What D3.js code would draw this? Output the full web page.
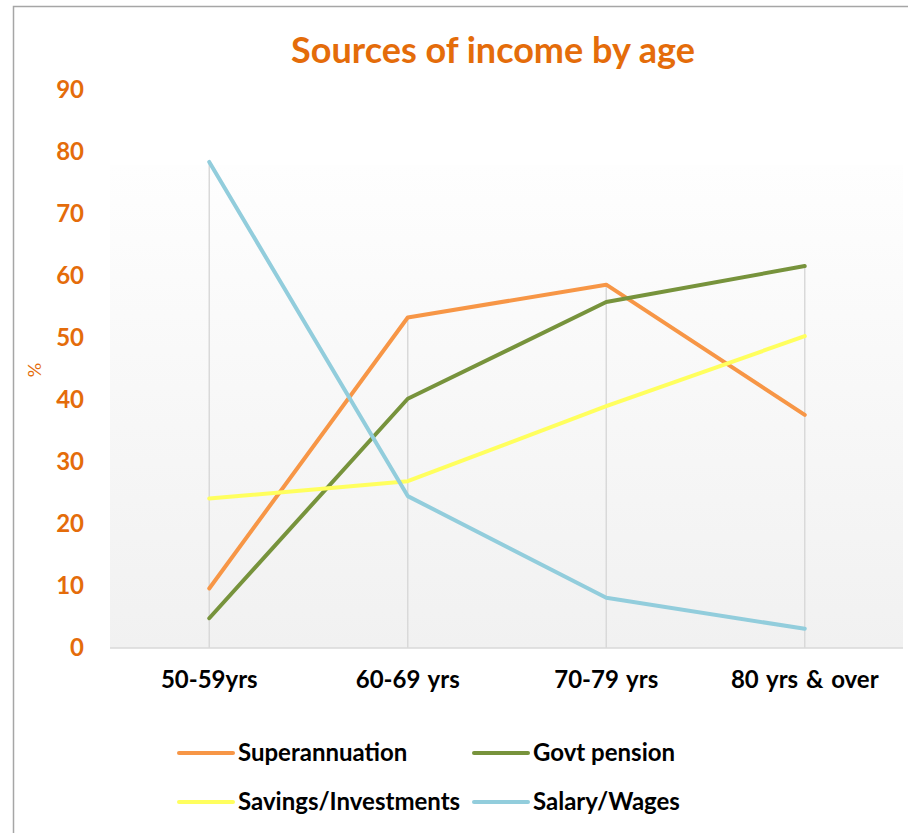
<!DOCTYPE html>
<html>
<head>
<meta charset="utf-8">
<script src="https://cdn.jsdelivr.net/npm/d3@7"></script>
<style>
  body { margin: 0; background: #fff; }
  svg { display: block; font-family: Lato, "Open Sans", sans-serif; }
</style>
</head>
<body>
<div id="chart"></div>
<script>
// data
var categories = ["50-59yrs", "60-69 yrs", "70-79 yrs", "80 yrs & over"];
var seriesNames = ["Superannuation", "Govt pension", "Savings/Investments", "Salary/Wages"];
var superannuation = [9.6, 53.3, 58.6, 37.6];
var govtPension = [4.8, 40.2, 55.8, 61.6];
var savings = [24.1, 26.9, 39.0, 50.3];
var salary = [78.4, 24.5, 8.1, 3.1];
var yTicks = [0, 10, 20, 30, 40, 50, 60, 70, 80, 90];
var colors_list = ["#f79646", "#77933c", "#ffff5e", "#92cddc"];

var data_list = [superannuation, govtPension, savings, salary];

var width = 908, height = 833;
var orange = "#e46c0a";

var svg = d3.select("#chart").append("svg")
  .attr("width", width)
  .attr("height", height);

// outer chart border
svg.append("rect")
  .attr("x", 13.5).attr("y", 6.5)
  .attr("width", 920).attr("height", 900)
  .attr("fill", "none")
  .attr("stroke", "#a6a6a6")
  .attr("stroke-width", 1.5);

var x = d3.scaleBand().domain(categories).range([110, 904]).padding(0);
var y = d3.scaleLinear().domain([0, 90]).range([648, 90]);

function cx(c) { return x(c) + x.bandwidth() / 2; }

// plot area gradient
var defs = svg.append("defs");
var grad = defs.append("linearGradient")
  .attr("id", "plotGrad")
  .attr("x1", 0).attr("y1", 0).attr("x2", 0).attr("y2", 1);
grad.append("stop").attr("offset", "0%").attr("stop-color", "#fefefe");
grad.append("stop").attr("offset", "100%").attr("stop-color", "#f1f1f1");

svg.append("rect")
  .attr("x", 110).attr("y", 165)
  .attr("width", 793).attr("height", y(0) - 165)
  .attr("fill", "url(#plotGrad)");

// drop lines: from the highest point in each category down to the axis
svg.append("g").attr("class", "drops")
  .selectAll("line")
  .data(categories)
  .enter()
  .append("line")
  .attr("x1", function (d) { return cx(d); })
  .attr("x2", function (d) { return cx(d); })
  .attr("y1", function (d, i) {
    return y(d3.max(data_list, function (s) { return s[i]; }));
  })
  .attr("y2", y(0))
  .attr("stroke", "#d9d9d9")
  .attr("stroke-width", 1.5);

// x axis baseline
svg.append("line")
  .attr("x1", 110).attr("x2", 903)
  .attr("y1", y(0)).attr("y2", y(0))
  .attr("stroke", "#d9d9d9")
  .attr("stroke-width", 1.5);

// y tick labels
var yAxis = d3.axisLeft(y).tickValues(yTicks).tickSize(0).tickPadding(0);
var yg = svg.append("g")
  .attr("transform", "translate(84,0)")
  .call(yAxis);
yg.select(".domain").remove();
yg.selectAll("text")
  .attr("fill", orange)
  .attr("font-size", 24)
  .attr("font-weight", "bold")
  .attr("font-family", "Lato, sans-serif");

// x tick labels
var xAxis = d3.axisBottom(x).tickSize(0).tickPadding(0);
var xg = svg.append("g")
  .attr("transform", "translate(0," + (y(0) + 23) + ")")
  .call(xAxis);
xg.select(".domain").remove();
xg.selectAll("text")
  .attr("fill", "#000")
  .attr("font-size", 24)
  .attr("font-weight", "bold")
  .attr("font-family", "Lato, sans-serif")
  .attr("word-spacing", 2);

// y axis title
svg.append("text")
  .attr("transform", "translate(41,370) rotate(-90)")
  .attr("text-anchor", "middle")
  .attr("fill", orange)
  .attr("font-size", 18)
  .text("%");

// title
svg.append("text")
  .attr("x", 493).attr("y", 63)
  .attr("text-anchor", "middle")
  .attr("fill", orange)
  .attr("font-size", 36)
  .attr("font-weight", "bold")
  .text("Sources of income by age");

// series lines
var line = d3.line()
  .x(function (d, i) { return cx(categories[i]); })
  .y(function (d) { return y(d); });

svg.append("g").attr("class", "lines")
  .selectAll("path")
  .data(data_list)
  .enter()
  .append("path")
  .attr("d", line)
  .attr("fill", "none")
  .attr("stroke", function (d, i) { return colors_list[i]; })
  .attr("stroke-width", 4)
  .attr("stroke-linecap", "round")
  .attr("stroke-linejoin", "round");

// legend, two columns
var legend = svg.append("g").attr("class", "legend")
  .selectAll("g")
  .data(seriesNames)
  .enter()
  .append("g")
  .attr("transform", function (d, i) {
    return "translate(" + (i % 2 === 0 ? 179 : 474) + "," + (i < 2 ? 753 : 802) + ")";
  });

legend.append("line")
  .attr("x1", 0).attr("x2", 54)
  .attr("y1", 0).attr("y2", 0)
  .attr("stroke", function (d, i) { return colors_list[i]; })
  .attr("stroke-width", 4)
  .attr("stroke-linecap", "round");

legend.append("text")
  .attr("x", 59)
  .attr("dy", "0.35em")
  .attr("fill", "#000")
  .attr("font-size", 24)
  .attr("font-weight", "bold")
  .text(function (d) { return d; });
</script>
</body>
</html>
